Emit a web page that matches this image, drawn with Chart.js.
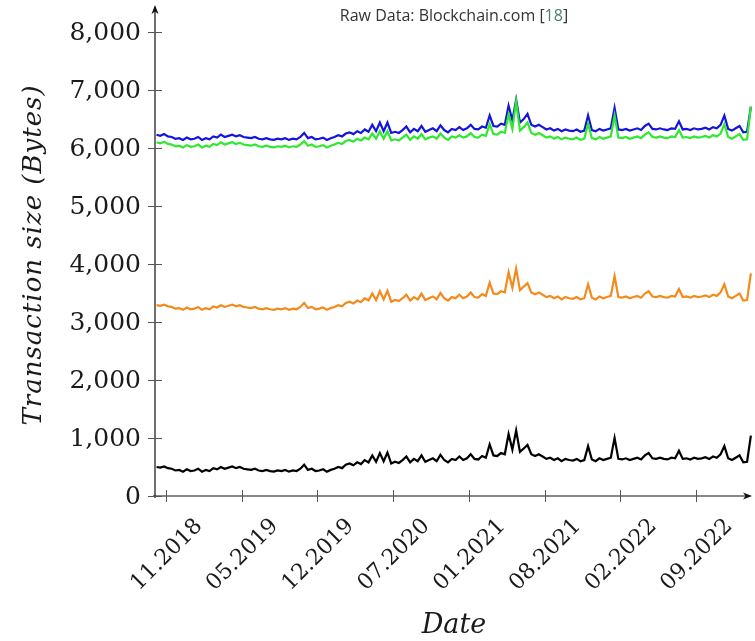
<!DOCTYPE html>
<html>
<head>
<meta charset="utf-8">
<script src="https://cdn.jsdelivr.net/npm/chart.js@4.4.1/dist/chart.umd.min.js"></script>
<style>
  html, body { margin: 0; padding: 0; background: #fff; }
  #wrap { width: 755px; height: 641px; }
</style>
</head>
<body>
<div id="wrap"><canvas id="myChart" width="755" height="641"></canvas></div>
<script>
// x is counted in days from the 11.2018 tick, one sample every 10 days
var firstDay = -25;
var stepDays = 10;
var tickDays = [0, 200, 400, 600, 800, 1000, 1200, 1400];
var tickLabels = ['11.2018', '05.2019', '12.2019', '07.2020', '01.2021', '08.2021', '02.2022', '09.2022'];
var yTicks = [0, 1000, 2000, 3000, 4000, 5000, 6000, 7000, 8000];

var blueSeries = [
  6230, 6210, 6240, 6200, 6190, 6160, 6170, 6140, 6180, 6150,
  6160, 6190, 6140, 6170, 6150, 6200, 6180, 6230, 6190, 6210,
  6230, 6200, 6220, 6190, 6180, 6170, 6190, 6160, 6150, 6170,
  6150, 6140, 6160, 6150, 6170, 6140, 6160, 6150, 6190, 6260,
  6170, 6190, 6150, 6160, 6180, 6140, 6170, 6190, 6220, 6200,
  6250, 6270, 6240, 6290, 6260, 6320, 6280, 6400, 6290, 6440,
  6290, 6440, 6260, 6280, 6260, 6310, 6370, 6270, 6330, 6290,
  6380, 6280, 6310, 6340, 6290, 6390, 6310, 6270, 6330, 6310,
  6360, 6310, 6340, 6400, 6330, 6320, 6370, 6350, 6560, 6380,
  6370, 6420, 6400, 6730, 6480, 6830, 6440, 6500, 6590, 6400,
  6370, 6400, 6360, 6320, 6340, 6300, 6330, 6290, 6320, 6300,
  6290, 6320, 6280, 6300, 6560, 6310, 6290, 6330, 6300, 6320,
  6340, 6690, 6320, 6310, 6330, 6300, 6320, 6340, 6310, 6380,
  6420, 6330, 6320, 6340, 6320, 6310, 6340, 6330, 6460, 6320,
  6330, 6310, 6340, 6320, 6330, 6350, 6320, 6360, 6340, 6400,
  6560, 6330, 6300, 6340, 6380, 6270, 6280, 6710
];
var greenSeries = [
  6100, 6080, 6110, 6070, 6060, 6030, 6040, 6010, 6050, 6020,
  6030, 6060, 6010, 6040, 6020, 6070, 6050, 6100, 6060, 6080,
  6100, 6070, 6090, 6060, 6050, 6040, 6060, 6030, 6020, 6040,
  6020, 6010, 6030, 6020, 6040, 6010, 6030, 6020, 6060, 6120,
  6040, 6060, 6020, 6030, 6050, 6010, 6040, 6060, 6090, 6070,
  6120, 6140, 6110, 6160, 6130, 6180, 6150, 6250, 6160, 6290,
  6160, 6290, 6130, 6150, 6130, 6180, 6230, 6140, 6200, 6160,
  6240, 6150, 6180, 6200, 6160, 6250, 6180, 6140, 6200, 6180,
  6220, 6180, 6200, 6260, 6190, 6180, 6230, 6210, 6410, 6240,
  6230, 6280, 6260, 6580, 6330, 6800, 6300, 6360, 6440, 6260,
  6230, 6260, 6220, 6180, 6200, 6160, 6190, 6150, 6180, 6160,
  6150, 6180, 6140, 6160, 6420, 6170, 6150, 6190, 6160, 6180,
  6200, 6560, 6180, 6170, 6190, 6160, 6180, 6200, 6170, 6230,
  6270, 6190, 6180, 6200, 6180, 6170, 6200, 6190, 6310, 6180,
  6190, 6170, 6200, 6180, 6190, 6210, 6180, 6220, 6200, 6250,
  6410, 6190, 6160, 6200, 6240, 6140, 6150, 6720
];
var orangeSeries = [
  3290, 3280, 3300, 3270, 3260, 3230, 3240, 3210, 3250, 3220,
  3230, 3260, 3210, 3240, 3220, 3270, 3250, 3290, 3260, 3280,
  3300, 3270, 3290, 3260, 3250, 3240, 3260, 3230, 3220, 3240,
  3220, 3210, 3230, 3220, 3240, 3210, 3230, 3220, 3260, 3330,
  3240, 3260, 3220, 3230, 3250, 3210, 3240, 3260, 3290, 3270,
  3330, 3350, 3320, 3370, 3340, 3410, 3370, 3490, 3380, 3530,
  3390, 3540, 3350, 3380, 3360, 3410, 3470, 3370, 3430, 3390,
  3490, 3380, 3410, 3440, 3390, 3500, 3410, 3370, 3430, 3410,
  3470, 3410, 3440, 3510, 3430, 3420, 3480, 3450, 3680, 3490,
  3480, 3530, 3510, 3860, 3590, 3920, 3550, 3610, 3670, 3510,
  3480, 3510, 3470, 3430, 3450, 3410, 3440, 3390, 3430, 3410,
  3400, 3430, 3390, 3410, 3650, 3420, 3390, 3440, 3410, 3430,
  3450, 3790, 3430, 3420, 3440, 3410, 3430, 3450, 3420, 3490,
  3530, 3440, 3430, 3450, 3430, 3420, 3450, 3440, 3570, 3430,
  3440, 3420, 3450, 3430, 3440, 3460, 3430, 3470, 3450, 3510,
  3650, 3440, 3410, 3450, 3490, 3370, 3380, 3840
];
var blackSeries = [
  500, 490, 510, 480, 470, 440, 450, 420, 460, 430,
  440, 470, 420, 450, 430, 480, 460, 500, 470, 490,
  510, 480, 500, 470, 460, 450, 470, 440, 430, 450,
  430, 420, 440, 430, 450, 420, 440, 430, 470, 540,
  450, 470, 430, 440, 460, 420, 450, 470, 500, 480,
  540, 560, 530, 580, 550, 620, 580, 700, 590, 740,
  600, 750, 560, 590, 570, 620, 680, 580, 640, 600,
  700, 590, 620, 650, 600, 710, 620, 580, 640, 620,
  680, 620, 650, 720, 640, 630, 690, 660, 890, 700,
  690, 740, 720, 1070, 800, 1130, 760, 820, 880, 720,
  690, 720, 680, 640, 660, 620, 650, 600, 640, 620,
  610, 640, 600, 620, 860, 630, 600, 650, 620, 640,
  660, 1000, 640, 630, 650, 620, 640, 660, 630, 700,
  740, 650, 640, 660, 640, 630, 660, 650, 780, 640,
  650, 630, 660, 640, 650, 670, 640, 680, 660, 720,
  860, 650, 620, 660, 700, 580, 590, 1040
];

function toPoints(values) {
  return values.map(function (v, i) { return { x: firstDay + i * stepDays, y: v }; });
}

function lineSet(values, color) {
  return {
    data: toPoints(values),
    borderColor: color,
    borderWidth: 2.2,
    pointRadius: 0,
    tension: 0,
    fill: false
  };
}

// pgfplots-like axes: arrows, ticks crossing the axis, tick labels, titles
var axesPlugin = {
  id: 'axesPlugin',
  afterDraw: function (chart) {
    var ctx = chart.ctx;
    var xs = chart.scales.x, ys = chart.scales.y;
    var x0 = xs.left, y0 = ys.bottom;
    var xEnd = xs.right, yTop = ys.top;
    ctx.save();
    ctx.strokeStyle = '#111';
    ctx.fillStyle = '#111';
    ctx.lineWidth = 1.2;
    ctx.beginPath();
    ctx.moveTo(x0, y0 + 2); ctx.lineTo(x0, yTop + 2);
    ctx.moveTo(x0 - 2, y0); ctx.lineTo(xEnd - 2, y0);
    ctx.stroke();
    ctx.beginPath();
    ctx.moveTo(x0, yTop); ctx.lineTo(x0 - 3.5, yTop + 9); ctx.lineTo(x0, yTop + 6.5); ctx.lineTo(x0 + 3.5, yTop + 9);
    ctx.closePath(); ctx.fill();
    ctx.beginPath();
    ctx.moveTo(xEnd, y0); ctx.lineTo(xEnd - 9, y0 - 3.5); ctx.lineTo(xEnd - 6.5, y0); ctx.lineTo(xEnd - 9, y0 + 3.5);
    ctx.closePath(); ctx.fill();

    ctx.strokeStyle = '#555';
    ctx.lineWidth = 1;
    ctx.beginPath();
    yTicks.forEach(function (v) {
      var py = Math.round(ys.getPixelForValue(v)) + 0.5;
      ctx.moveTo(x0 - 7, py); ctx.lineTo(x0 + 7, py);
    });
    tickDays.forEach(function (d) {
      var px = Math.round(xs.getPixelForValue(d)) + 0.5;
      ctx.moveTo(px, y0 - 6); ctx.lineTo(px, y0 + 6);
    });
    ctx.stroke();

    ctx.fillStyle = '#1a1a1a';
    ctx.font = '25px "DejaVu Serif"';
    ctx.textAlign = 'right';
    ctx.textBaseline = 'middle';
    yTicks.forEach(function (v) {
      ctx.fillText(v.toLocaleString('en-US'), 141, ys.getPixelForValue(v) + 1);
    });

    ctx.font = '22px "DejaVu Serif"';
    ctx.textAlign = 'center';
    tickDays.forEach(function (d, i) {
      var px = xs.getPixelForValue(d);
      ctx.save();
      ctx.translate(px + 1, 555);
      ctx.rotate(-Math.PI / 4);
      ctx.fillText(tickLabels[i], 0, 0);
      ctx.restore();
    });

    ctx.font = 'italic 26px "DejaVu Serif"';
    ctx.save();
    ctx.translate(34, 255);
    ctx.rotate(-Math.PI / 2);
    ctx.letterSpacing = '1px';
    ctx.fillText('Transaction size (Bytes)', 0, 0);
    ctx.restore();
    ctx.font = 'italic 27px "DejaVu Serif"';
    ctx.fillText('Date', 454, 626);

    ctx.font = '16px "Open Sans"';
    ctx.textAlign = 'left';
    var partA = 'Raw Data: Blockchain.com [';
    var partB = '18';
    var partC = ']';
    var wA = ctx.measureText(partA).width;
    var wB = ctx.measureText(partB).width;
    var wC = ctx.measureText(partC).width;
    var sx = 454 - (wA + wB + wC) / 2;
    ctx.fillStyle = '#333';
    ctx.fillText(partA, sx, 16);
    ctx.fillStyle = '#4f7f72';
    ctx.fillText(partB, sx + wA, 16);
    ctx.fillStyle = '#333';
    ctx.fillText(partC, sx + wA + wB, 16);
    ctx.restore();
  }
};

var ctx = document.getElementById('myChart').getContext('2d');
var myChart = new Chart(ctx, {
  type: 'line',
  data: {
    datasets: [
      lineSet(greenSeries, '#2fe82f'),
      lineSet(blueSeries, '#1414dc'),
      lineSet(orangeSeries, '#f58a1c'),
      lineSet(blackSeries, '#000000')
    ]
  },
  options: {
    responsive: false,
    animation: false,
    devicePixelRatio: 1,
    layout: { padding: { top: 5, right: 3, left: 0, bottom: 0 } },
    plugins: {
      legend: { display: false },
      tooltip: { enabled: false },
      title: { display: false }
    },
    scales: {
      x: {
        type: 'linear',
        min: -29,
        max: 1548,
        afterBuildTicks: function (s) { s.ticks = tickDays.map(function (d) { return { value: d }; }); },
        afterFit: function (s) { s.height = 145; },
        grid: { display: false },
        border: { display: false },
        ticks: { display: false }
      },
      y: {
        min: 0,
        max: 8466,
        afterBuildTicks: function (s) { s.ticks = yTicks.map(function (v) { return { value: v }; }); },
        afterFit: function (s) { s.width = 155; },
        grid: { display: false },
        border: { display: false },
        ticks: { display: false }
      }
    }
  },
  plugins: [axesPlugin]
});
</script>
</body>
</html>
